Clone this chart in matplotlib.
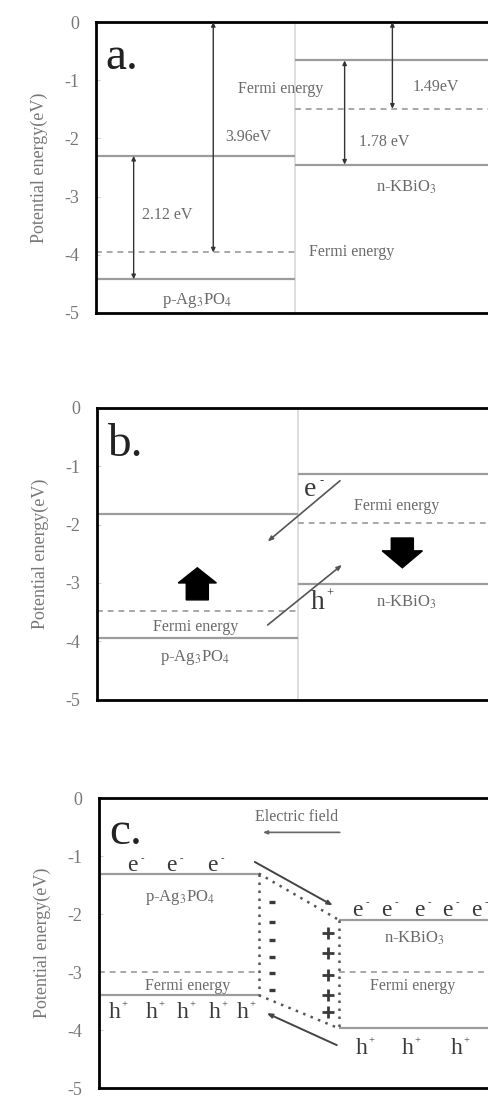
import matplotlib
matplotlib.use('Agg')
import matplotlib.pyplot as plt

plt.rcParams['font.family'] = ['Liberation Serif', 'DejaVu Serif']
plt.rcParams['mathtext.fontset'] = 'stix'
plt.rcParams['axes.unicode_minus'] = False

LINE = '#9c9c9c'
TXT = '#6a6a6a'
DARK = '#3a3a3a'

# band levels (eV): conduction band, valence band, Fermi level
a_ag = [-2.30, -4.42, -3.96]
a_kb = [-0.66, -2.45, -1.49]
b_ag = [-1.82, -3.94, -3.48]
b_kb = [-1.13, -3.02, -1.98]
c_ag = [-1.30, -3.40, -3.00]
c_kb = [-2.10, -3.97, -3.00]

# gap arrows in panel a: (x, top, bottom, label)
a_gaps = [(0.19, a_ag[0], a_ag[1], '2.12 eV'),
          (0.59, 0.0, a_ag[2], '3.96eV'),
          (1.25, a_kb[0], a_kb[1], '1.78 eV'),
          (1.49, 0.0, a_kb[2], '1.49eV')]

# space charge in panel c
minus_y = [-1.79, -2.14, -2.45, -2.74, -3.02, -3.31]
plus_y = [-2.33, -2.67, -3.05, -3.40, -3.69]

yticks = [0, -1, -2, -3, -4, -5]
AG = r'p-Ag$_3$PO$_4$'
KB = r'n-KBiO$_3$'
FS = 11.5

fig = plt.figure(figsize=(4.89, 11.02), dpi=100)


def make_axes(rect, tag, tag_y):
    ax = fig.add_axes(rect)
    ax.set_xlim(0, 2)
    ax.set_ylim(-5, 0)
    ax.set_xticks([])
    ax.set_yticks(yticks)
    ax.set_yticklabels([str(t) for t in yticks])
    ax.tick_params(axis='y', direction='in', length=3, color='#d0d0d0',
                   labelsize=13, labelcolor='#777777', pad=12)
    for s in ax.spines.values():
        s.set_linewidth(2)
        s.set_color('black')
    ax.set_ylabel('Potential energy(eV)', fontsize=13, color='#777777')
    ax.yaxis.set_label_coords(-0.12, 0.5)
    ax.text(0.05, tag_y, tag, fontsize=34, color='#222222', va='center', ha='left')
    return ax


def levels(ax, lv, x0, x1):
    ax.hlines(lv[:2], x0, x1, colors=LINE, lw=1.6)
    ax.hlines(lv[2], x0, x1, colors='#a8a8a8', lw=1.4, linestyles=(0, (3, 2.5)))


def carrier(ax, x, y, base, sup, size):
    ax.text(x, y, base, fontsize=size, color=DARK, va='center', ha='center')
    ax.annotate(sup, xy=(x, y), xytext=(size * 0.42, size * 0.3),
                textcoords='offset points', fontsize=size * 0.45, color=DARK,
                va='center', ha='center')


# ---- panel a
ax = make_axes([0.196, 0.716, 0.814, 0.264], 'a.', -0.62)
ax.axvline(1, color='#d8d8d8', lw=1.2)
levels(ax, a_ag, 0, 1)
levels(ax, a_kb, 1, 2)
for x, y0, y1, lab in a_gaps:
    ax.annotate('', xy=(x, y1), xytext=(x, y0),
                arrowprops=dict(arrowstyle='<|-|>,head_length=0.25,head_width=0.12',
                                color='#333333', lw=1.0, shrinkA=0, shrinkB=0))
ax.text(0.23, -3.32, '2.12 eV', fontsize=FS, color=TXT, va='center')
ax.text(0.65, -1.98, '3.96eV', fontsize=FS, color=TXT, va='center')
ax.text(1.32, -2.07, '1.78 eV', fontsize=FS, color=TXT, va='center')
ax.text(1.59, -1.12, '1.49eV', fontsize=FS, color=TXT, va='center')
ax.text(0.93, -1.15, 'Fermi energy', fontsize=FS, color=TXT, va='center', ha='center')
ax.text(1.07, -3.95, 'Fermi energy', fontsize=FS, color=TXT, va='center')
ax.text(0.51, -4.78, AG, fontsize=12, color=TXT, va='center', ha='center')
ax.text(1.56, -2.84, KB, fontsize=12, color=TXT, va='center', ha='center')

# ---- panel b
ax = make_axes([0.198, 0.365, 0.822, 0.265], 'b.', -0.63)
ax.axvline(1, color='#d8d8d8', lw=1.2)
levels(ax, b_ag, 0, 1)
levels(ax, b_kb, 1, 2)
ax.annotate('', xy=(0.85, -2.29), xytext=(1.21, -1.25),
            arrowprops=dict(arrowstyle='-|>,head_length=0.3,head_width=0.12',
                            color='#555555', lw=1.2, shrinkA=0, shrinkB=0))
ax.annotate('', xy=(1.22, -2.69), xytext=(0.85, -3.72),
            arrowprops=dict(arrowstyle='-|>,head_length=0.3,head_width=0.12',
                            color='#555555', lw=1.2, shrinkA=0, shrinkB=0))
carrier(ax, 1.06, -1.40, 'e', '-', 20)
carrier(ax, 1.10, -3.33, 'h', '+', 20)
ax.text(1.49, -1.69, 'Fermi energy', fontsize=FS, color=TXT, va='center', ha='center')
ax.text(0.49, -3.75, 'Fermi energy', fontsize=FS, color=TXT, va='center', ha='center')
ax.text(0.49, -4.28, AG, fontsize=12, color=TXT, va='center', ha='center')
ax.text(1.54, -3.33, KB, fontsize=12, color=TXT, va='center', ha='center')
ax.arrow(0.5, -3.29, 0, 0.55, width=0.11, head_width=0.19, head_length=0.26,
         length_includes_head=True, color='black')
ax.arrow(1.52, -2.23, 0, -0.51, width=0.11, head_width=0.2, head_length=0.29,
         length_includes_head=True, color='black')

# ---- panel c
ax = make_axes([0.202, 0.0127, 0.818, 0.263], 'c.', -0.59)
levels(ax, c_ag, 0, 0.8)
levels(ax, c_kb, 1.2, 2)
dot = dict(color='#555555', lw=1.8, ls=(0, (1, 2.2)))
ax.plot([0.8, 0.8], c_ag[:2], **dot)
ax.plot([1.2, 1.2], c_kb[:2], **dot)
ax.plot([0.8, 1.2], [c_ag[0], c_kb[0]], **dot)
ax.plot([0.8, 1.2], [c_ag[1], c_kb[1]], **dot)
ax.annotate('', xy=(1.17, -1.85), xytext=(0.78, -1.10),
            arrowprops=dict(arrowstyle='-|>,head_length=0.3,head_width=0.12',
                            color='#444444', lw=1.4, shrinkA=0, shrinkB=0))
ax.annotate('', xy=(0.84, -3.71), xytext=(1.19, -4.26),
            arrowprops=dict(arrowstyle='-|>,head_length=0.3,head_width=0.12',
                            color='#444444', lw=1.4, shrinkA=0, shrinkB=0))
ax.annotate('', xy=(0.82, -0.59), xytext=(1.205, -0.59),
            arrowprops=dict(arrowstyle='-|>,head_length=0.25,head_width=0.1',
                            color='#666666', lw=1.2, shrinkA=0, shrinkB=0))
ax.text(0.99, -0.33, 'Electric field', fontsize=FS, color=TXT, va='center', ha='center')
ax.plot([0.865] * len(minus_y), minus_y, ls='none', marker='_', ms=5, mew=2.4, color=DARK)
ax.plot([1.145] * len(plus_y), plus_y, ls='none', marker='+', ms=9, mew=2.0, color=DARK)
for x in [0.17, 0.365, 0.57]:
    carrier(ax, x, -1.16, 'e', '-', 17)
for x in [0.08, 0.265, 0.42, 0.58, 0.72]:
    carrier(ax, x, -3.69, 'h', '+', 17)
for x in [1.295, 1.44, 1.605, 1.745, 1.89]:
    carrier(ax, x, -1.93, 'e', '-', 17)
for x in [1.315, 1.545, 1.79]:
    carrier(ax, x, -4.31, 'h', '+', 17)
ax.text(0.405, -1.71, AG, fontsize=12, color=TXT, va='center', ha='center')
ax.text(1.58, -2.41, KB, fontsize=12, color=TXT, va='center', ha='center')
ax.text(0.445, -3.24, 'Fermi energy', fontsize=FS, color=TXT, va='center', ha='center')
ax.text(1.57, -3.24, 'Fermi energy', fontsize=FS, color=TXT, va='center', ha='center')

fig.savefig('out.png', dpi=100)
